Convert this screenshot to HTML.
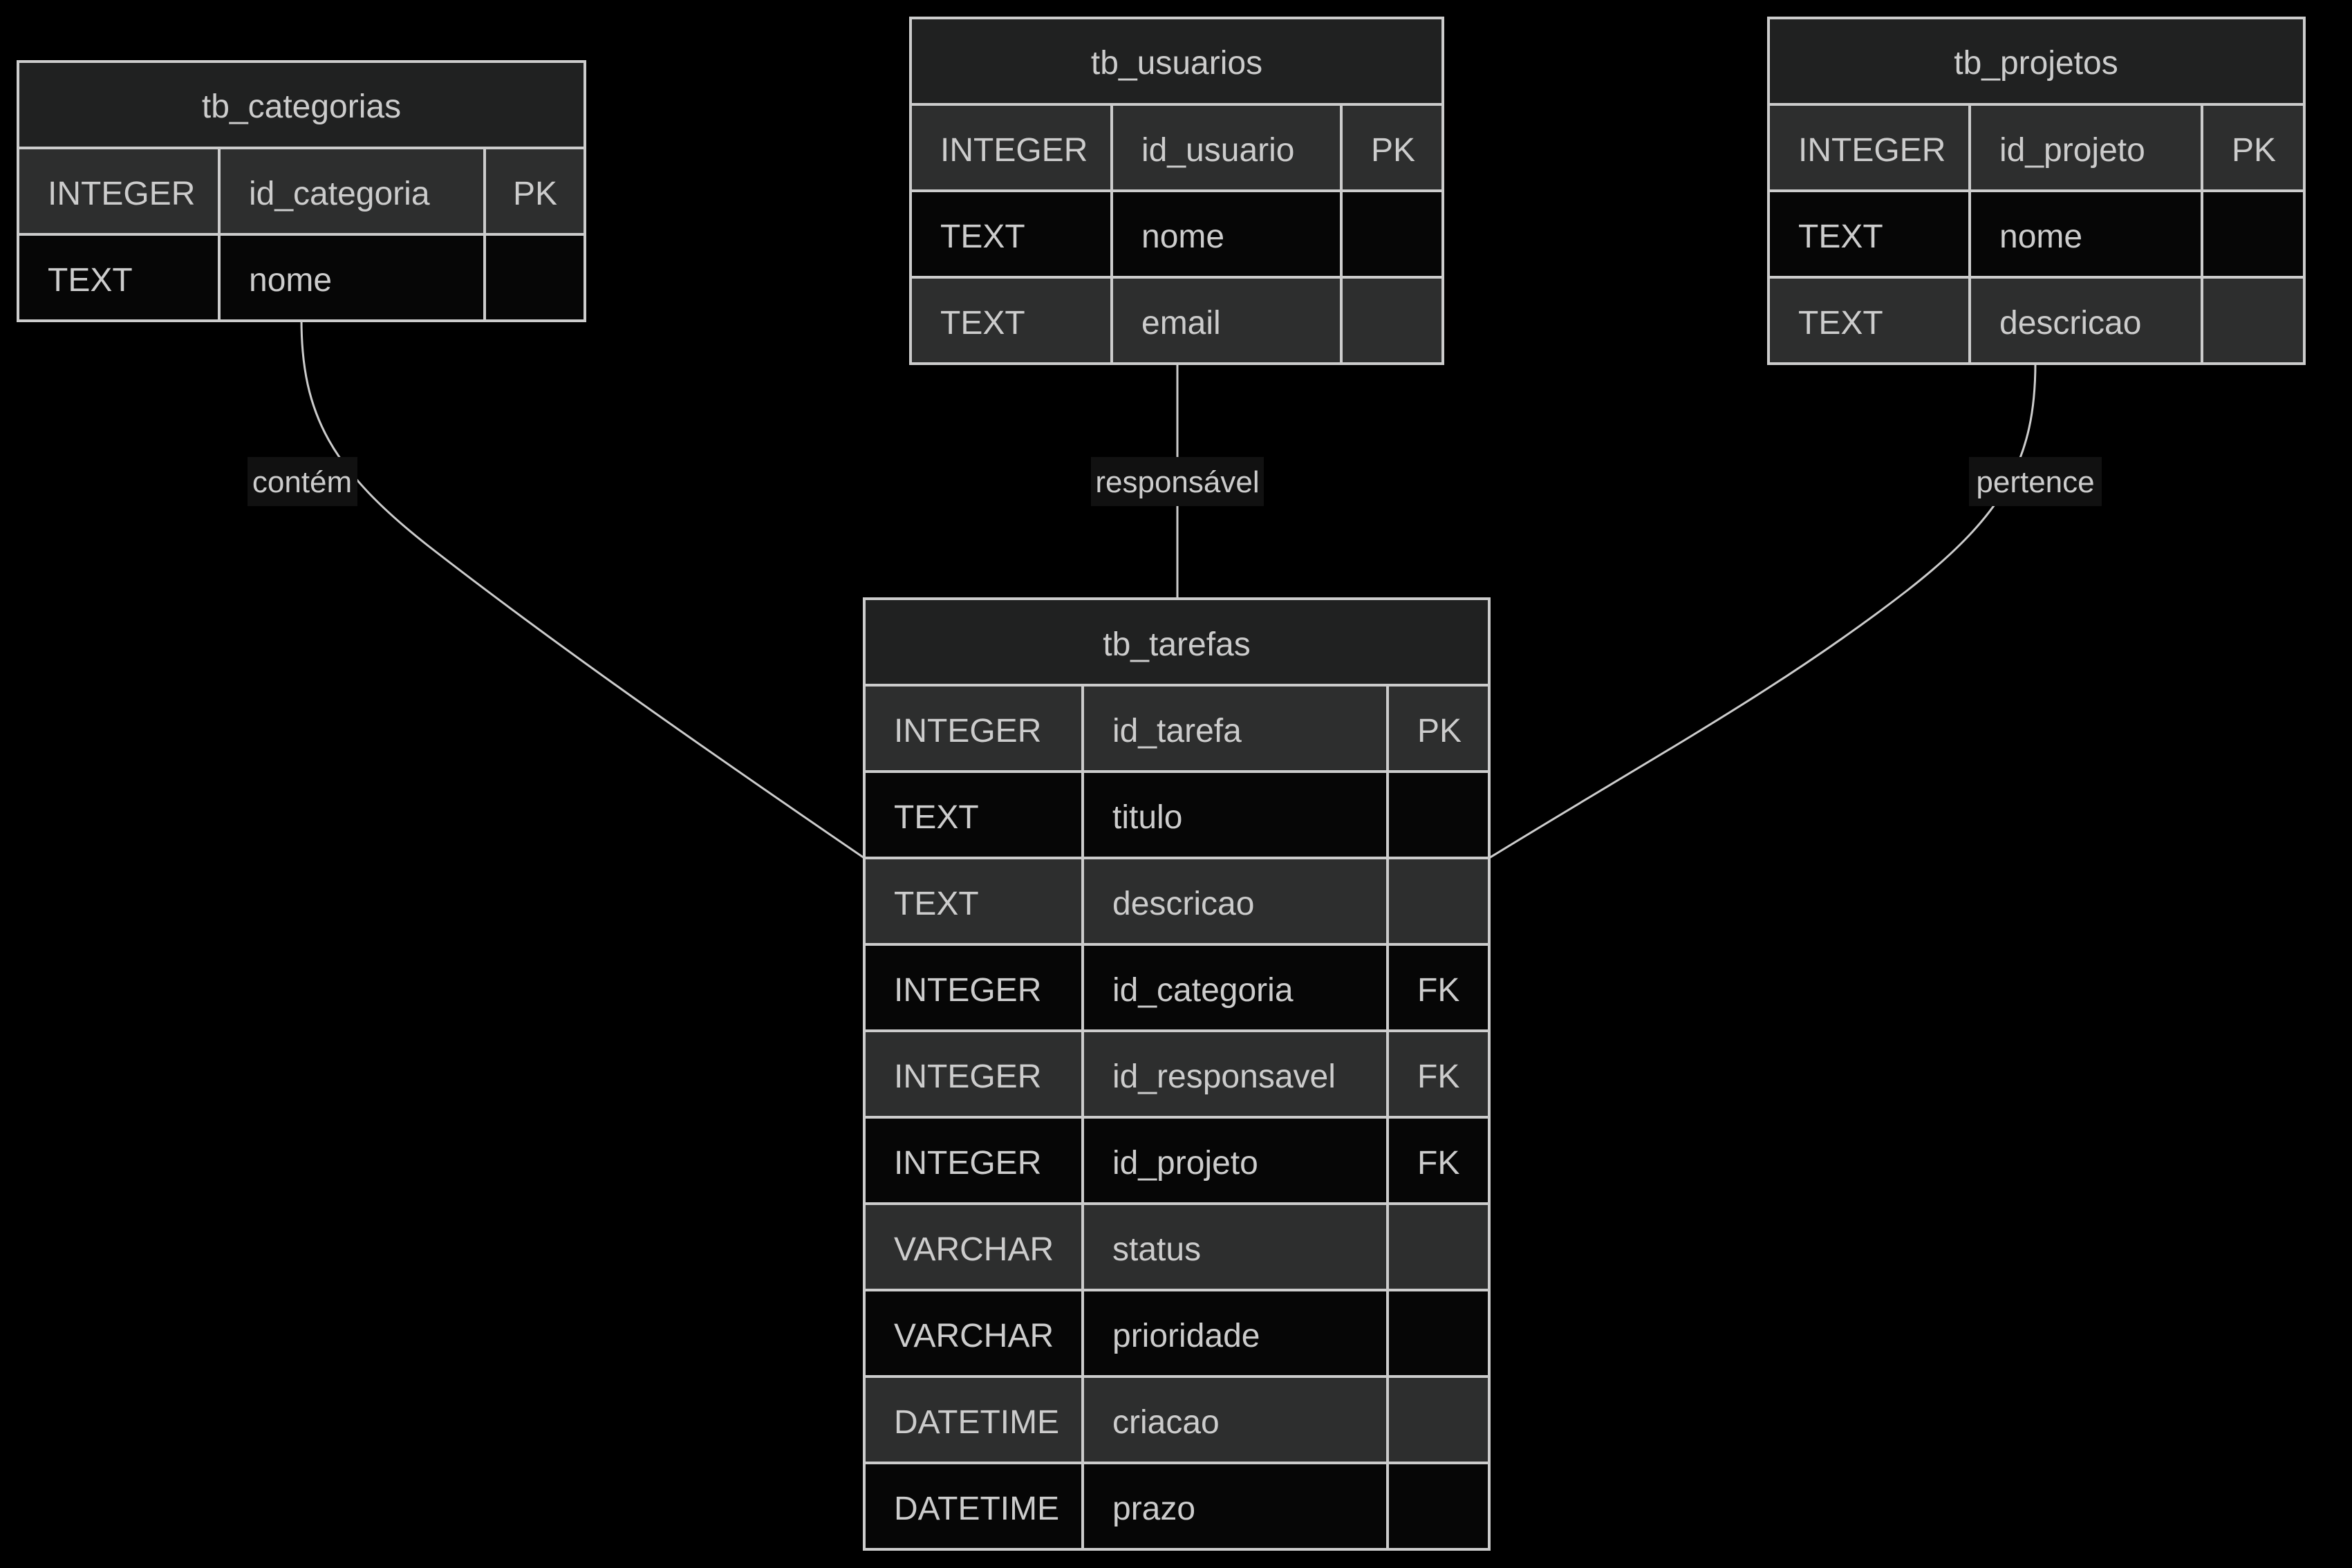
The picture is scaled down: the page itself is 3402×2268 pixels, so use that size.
<!DOCTYPE html>
<html><head><meta charset="utf-8"><style>
html,body{margin:0;padding:0;background:#000;}
svg{display:block;}
text{font-family:"Liberation Sans",sans-serif;fill:#ccc;}
</style></head><body>
<svg width="3402" height="2268" viewBox="0 0 3402 2268" xmlns="http://www.w3.org/2000/svg">
<rect width="3402" height="2268" fill="#000"/>
<!-- edges -->
<g fill="none" stroke="#ccc" stroke-width="3">
<path d="M436,462 C436,600 480,680 620,790 C800,930 1000,1070 1250,1241"/>
<path d="M2944,525 C2944,663 2900,743 2760,853 C2580,993 2400,1090 2154,1241"/>
<path d="M1703,525 L1703,866"/>
</g>
<g font-size="44" text-anchor="middle">
<rect x="358" y="661" width="159" height="71" fill="#111"/>
<text x="437" y="712">contém</text>
<rect x="1578" y="661" width="250" height="71" fill="#111"/>
<text x="1703" y="712">responsável</text>
<rect x="2848" y="661" width="192" height="71" fill="#111"/>
<text x="2944" y="712">pertence</text>
</g>

<!-- tb_categorias -->
<g stroke="#ccc" stroke-width="4">
<rect x="26" y="89" width="820" height="125" fill="#202121"/>
<rect x="26" y="214" width="820" height="125" fill="#2d2e2e"/>
<rect x="26" y="339" width="820" height="125" fill="#060606"/>
<line x1="317" y1="214" x2="317" y2="464"/><line x1="701" y1="214" x2="701" y2="464"/>
</g>
<g font-size="48">
<text x="436" y="170" text-anchor="middle">tb_categorias</text>
<text x="69" y="296">INTEGER</text><text x="360" y="296">id_categoria</text><text x="742" y="296">PK</text>
<text x="69" y="421">TEXT</text><text x="360" y="421">nome</text>
</g>

<!-- tb_usuarios -->
<g stroke="#ccc" stroke-width="4">
<rect x="1317" y="26" width="770" height="125" fill="#202121"/>
<rect x="1317" y="151" width="770" height="125" fill="#2d2e2e"/>
<rect x="1317" y="276" width="770" height="125" fill="#060606"/>
<rect x="1317" y="401" width="770" height="125" fill="#2d2e2e"/>
<line x1="1608" y1="151" x2="1608" y2="526"/><line x1="1940" y1="151" x2="1940" y2="526"/>
</g>
<g font-size="48">
<text x="1702" y="107" text-anchor="middle">tb_usuarios</text>
<text x="1360" y="233">INTEGER</text><text x="1651" y="233">id_usuario</text><text x="1983" y="233">PK</text>
<text x="1360" y="358">TEXT</text><text x="1651" y="358">nome</text>
<text x="1360" y="483">TEXT</text><text x="1651" y="483">email</text>
</g>

<!-- tb_projetos -->
<g stroke="#ccc" stroke-width="4">
<rect x="2558" y="26" width="775" height="125" fill="#202121"/>
<rect x="2558" y="151" width="775" height="125" fill="#2d2e2e"/>
<rect x="2558" y="276" width="775" height="125" fill="#060606"/>
<rect x="2558" y="401" width="775" height="125" fill="#2d2e2e"/>
<line x1="2849" y1="151" x2="2849" y2="526"/><line x1="3185" y1="151" x2="3185" y2="526"/>
</g>
<g font-size="48">
<text x="2945" y="107" text-anchor="middle">tb_projetos</text>
<text x="2601" y="233">INTEGER</text><text x="2892" y="233">id_projeto</text><text x="3228" y="233">PK</text>
<text x="2601" y="358">TEXT</text><text x="2892" y="358">nome</text>
<text x="2601" y="483">TEXT</text><text x="2892" y="483">descricao</text>
</g>

<!-- tb_tarefas -->
<g stroke="#ccc" stroke-width="4">
<rect x="1250" y="866" width="904" height="125" fill="#202121"/>
<rect x="1250" y="991" width="904" height="125" fill="#2d2e2e"/>
<rect x="1250" y="1116" width="904" height="125" fill="#060606"/>
<rect x="1250" y="1241" width="904" height="125" fill="#2d2e2e"/>
<rect x="1250" y="1366" width="904" height="125" fill="#060606"/>
<rect x="1250" y="1491" width="904" height="125" fill="#2d2e2e"/>
<rect x="1250" y="1616" width="904" height="125" fill="#060606"/>
<rect x="1250" y="1741" width="904" height="125" fill="#2d2e2e"/>
<rect x="1250" y="1866" width="904" height="125" fill="#060606"/>
<rect x="1250" y="1991" width="904" height="125" fill="#2d2e2e"/>
<rect x="1250" y="2116" width="904" height="125" fill="#060606"/>
<line x1="1566" y1="991" x2="1566" y2="2241"/><line x1="2007" y1="991" x2="2007" y2="2241"/>
</g>
<g font-size="48">
<text x="1702" y="948" text-anchor="middle">tb_tarefas</text>
<text x="1293" y="1073">INTEGER</text><text x="1609" y="1073">id_tarefa</text><text x="2050" y="1073">PK</text>
<text x="1293" y="1198">TEXT</text><text x="1609" y="1198">titulo</text>
<text x="1293" y="1323">TEXT</text><text x="1609" y="1323">descricao</text>
<text x="1293" y="1448">INTEGER</text><text x="1609" y="1448">id_categoria</text><text x="2050" y="1448">FK</text>
<text x="1293" y="1573">INTEGER</text><text x="1609" y="1573">id_responsavel</text><text x="2050" y="1573">FK</text>
<text x="1293" y="1698">INTEGER</text><text x="1609" y="1698">id_projeto</text><text x="2050" y="1698">FK</text>
<text x="1293" y="1823">VARCHAR</text><text x="1609" y="1823">status</text>
<text x="1293" y="1948">VARCHAR</text><text x="1609" y="1948">prioridade</text>
<text x="1293" y="2073">DATETIME</text><text x="1609" y="2073">criacao</text>
<text x="1293" y="2198">DATETIME</text><text x="1609" y="2198">prazo</text>
</g>
</svg>
</body></html>
